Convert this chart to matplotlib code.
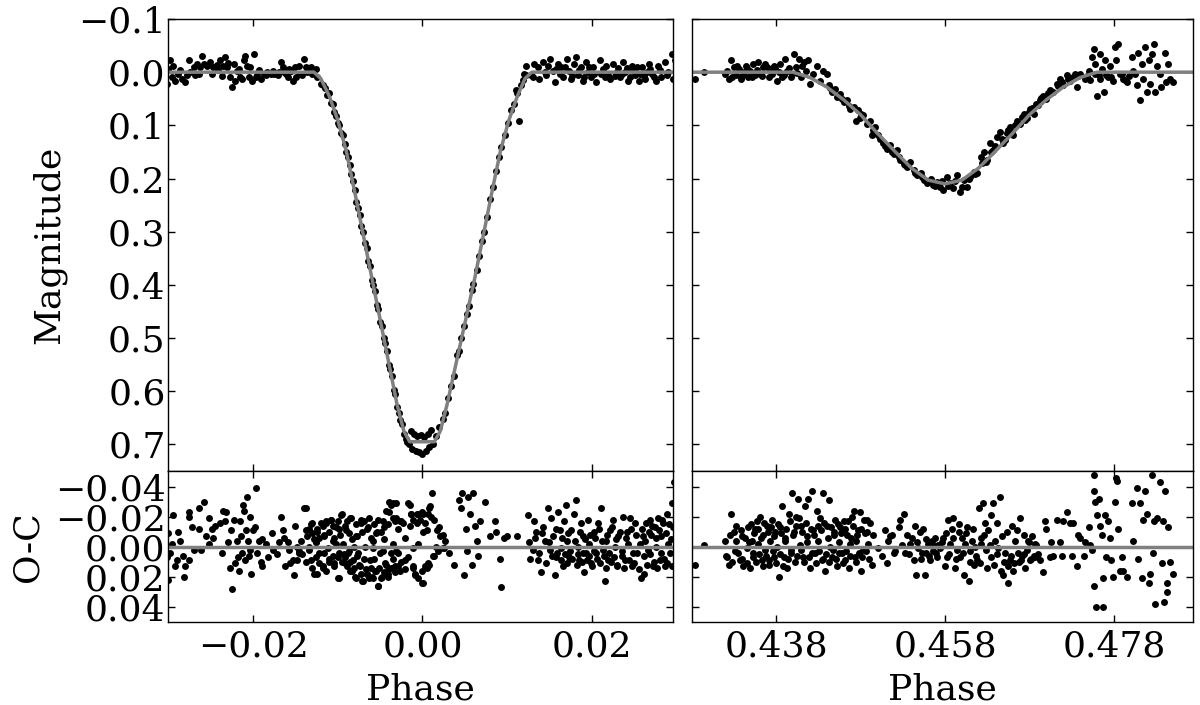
import numpy as np
import matplotlib
matplotlib.use("Agg")
import matplotlib.pyplot as plt
from matplotlib.ticker import FixedLocator

# ---------------- primary eclipse: light curve ----------------
prim_phase = [
    -0.0298, -0.0300, -0.0301, -0.0296, -0.0292, -0.0288, -0.0284, -0.0280, -0.0276, -0.0274,
    -0.0270, -0.0266, -0.0264, -0.0260, -0.0258, -0.0254, -0.0251, -0.0247, -0.0243, -0.0239,
    -0.0235, -0.0233, -0.0231, -0.0227, -0.0225, -0.0223, -0.0221, -0.0219, -0.0217, -0.0215,
    -0.0211, -0.0209, -0.0207, -0.0205, -0.0203, -0.0201, -0.0199, -0.0195, -0.0191, -0.0187,
    -0.0183, -0.0179, -0.0175, -0.0169, -0.0167, -0.0163, -0.0159, -0.0157, -0.0153, -0.0151,
    -0.0149, -0.0144, -0.0140, -0.0138, -0.0136, -0.0132, -0.0130, -0.0126, -0.0124, -0.0120,
    -0.0294, -0.0286, -0.0278, -0.0268, -0.0262, -0.0249, -0.0241, -0.0237, -0.0229, -0.0213,
    -0.0197, -0.0193, -0.0185, -0.0177, -0.0171, -0.0165, -0.0161, -0.0155, -0.0146, -0.0142,
    -0.0118, -0.0115, -0.0113, -0.0110, -0.0108, -0.0106, -0.0104, -0.0102, -0.0100, -0.0098,
    -0.0096, -0.0094, -0.0092, -0.0090, -0.0088, -0.0086, -0.0084, -0.0082, -0.0080, -0.0078,
    -0.0076, -0.0074, -0.0072, -0.0070, -0.0068, -0.0066, -0.0064, -0.0062, -0.0060, -0.0058,
    -0.0056, -0.0054, -0.0052, -0.0050, -0.0048, -0.0046, -0.0044, -0.0042, -0.0040, -0.0038,
    -0.0036, -0.0034, -0.0032, -0.0030, -0.0028, -0.0026, -0.0024, -0.0022, -0.0020, -0.0018,
    -0.0016, -0.0014, -0.0012, -0.0010, -0.0008, -0.0006, -0.0004, -0.0002, 0.0000, 0.0002,
    0.0004, 0.0006, 0.0008, 0.0010, 0.0012, 0.0016, 0.0020, 0.0024, 0.0027, 0.0030,
    0.0034, 0.0037, 0.0041, 0.0043, 0.0046, 0.0049, 0.0052, 0.0055, 0.0058, 0.0060,
    0.0064, 0.0067, 0.0070, 0.0073, 0.0076, 0.0080, 0.0083, 0.0087, 0.0090, 0.0093,
    0.0097, 0.0101, 0.0105, 0.0114, 0.0108, 0.0112, 0.0116, 0.0119, 0.0110, 0.0122,
    0.0120, 0.0128, 0.0132, 0.0136, 0.0138, 0.0142, 0.0144, 0.0148, 0.0150, 0.0154,
    0.0156, 0.0160, 0.0162, 0.0166, 0.0168, 0.0170, 0.0173, 0.0175, 0.0179, 0.0181,
    0.0183, 0.0187, 0.0189, 0.0193, 0.0195, 0.0199, 0.0201, 0.0205, 0.0209, 0.0211,
    0.0215, 0.0217, 0.0221, 0.0225, 0.0229, 0.0233, 0.0237, 0.0239, 0.0243, 0.0247,
    0.0251, 0.0255, 0.0259, 0.0263, 0.0267, 0.0271, 0.0275, 0.0278, 0.0282, 0.0286,
    0.0290, 0.0294, 0.0296, 0.0298, 0.0122, 0.0130, 0.0146, 0.0158, 0.0164, 0.0177,
    0.0185, 0.0191, 0.0197, 0.0203, 0.0213, 0.0219, 0.0227, 0.0231, 0.0235, 0.0241,
    0.0245, 0.0249, 0.0253, 0.0257, 0.0261, 0.0265, 0.0269, 0.0273, 0.0280, 0.0288,
]
prim_mag = [
    -0.022, -0.006, 0.022, 0.009, 0.016, 0.003, 0.012, 0.019, -0.022, 0.000,
    -0.009, -0.016, 0.003, -0.031, -0.016, -0.012, -0.019, -0.009, -0.014, -0.022,
    -0.012, -0.028, -0.009, 0.009, 0.028, -0.016, 0.016, -0.003, -0.006, 0.009,
    -0.022, -0.031, -0.012, 0.009, -0.009, 0.016, -0.034, 0.006, 0.012, 0.003,
    0.000, 0.003, 0.003, 0.000, -0.019, 0.000, 0.009, -0.006, 0.016, -0.009,
    0.009, 0.003, -0.025, -0.009, 0.000, -0.009, 0.003, -0.006, 0.009, 0.022,
    -0.012, -0.004, 0.006, 0.005, -0.010, 0.004, -0.005, 0.007, -0.018, 0.012,
    0.010, -0.004, 0.006, -0.003, 0.005, -0.010, 0.004, -0.002, -0.012, 0.006,
    0.025, 0.030, 0.042, 0.040, 0.058, 0.060, 0.075, 0.082, 0.095, 0.100,
    0.115, 0.118, 0.135, 0.150, 0.160, 0.175, 0.192, 0.205, 0.222, 0.245,
    0.255, 0.268, 0.290, 0.300, 0.322, 0.330, 0.355, 0.365, 0.390, 0.400,
    0.412, 0.438, 0.445, 0.470, 0.478, 0.500, 0.510, 0.525, 0.550, 0.558,
    0.572, 0.598, 0.605, 0.630, 0.640, 0.655, 0.662, 0.680, 0.690, 0.695,
    0.700, 0.675, 0.708, 0.680, 0.712, 0.684, 0.715, 0.682, 0.718, 0.686,
    0.712, 0.680, 0.705, 0.672, 0.700, 0.685, 0.668, 0.652, 0.640, 0.612,
    0.590, 0.572, 0.532, 0.525, 0.500, 0.478, 0.455, 0.440, 0.410, 0.398,
    0.372, 0.345, 0.318, 0.300, 0.272, 0.238, 0.215, 0.185, 0.160, 0.140,
    0.118, 0.095, 0.072, 0.092, 0.060, 0.040, 0.025, 0.015, 0.034, 0.006,
    0.003, 0.006, -0.016, -0.009, 0.012, -0.019, 0.000, -0.012, -0.025, -0.003,
    0.019, -0.016, 0.003, 0.009, -0.009, -0.025, -0.003, 0.012, -0.016, -0.028,
    0.006, -0.009, 0.016, -0.019, 0.000, 0.009, -0.009, 0.019, -0.022, 0.003,
    0.009, -0.012, 0.012, -0.016, 0.000, 0.009, -0.019, 0.000, 0.016, -0.012,
    0.006, 0.016, -0.009, 0.012, -0.016, 0.003, 0.016, -0.012, 0.009, -0.019,
    0.000, -0.034, 0.012, -0.022, -0.012, 0.010, 0.006, -0.006, -0.010, 0.008,
    -0.004, 0.010, -0.010, 0.004, -0.006, 0.005, 0.008, -0.008, 0.004, -0.008,
    0.010, -0.005, -0.010, 0.004, 0.008, 0.000, -0.006, 0.010, -0.004, 0.006,
]

# fitted model, primary
prim_model_phase = [-0.030, -0.0128, -0.0120, -0.0110, -0.0100, -0.0090, -0.0080, -0.0070,
                    -0.0060, -0.0050, -0.0040, -0.0030, -0.0022, -0.0015, 0.0014, 0.0021,
                    0.0029, 0.0040, 0.0051, 0.0062, 0.0072, 0.0082, 0.0092, 0.0102,
                    0.0112, 0.0121, 0.0129, 0.030]
prim_model_mag = [0.0, 0.0, 0.012, 0.045, 0.090, 0.148, 0.225, 0.305,
                  0.385, 0.465, 0.545, 0.625, 0.675, 0.695, 0.695, 0.675,
                  0.625, 0.545, 0.465, 0.385, 0.305, 0.225, 0.148, 0.090,
                  0.045, 0.012, 0.0, 0.0]

# ---------------- primary eclipse: residuals ----------------
prim_oc_phase = [
    -0.0300, -0.0301, -0.0300, -0.0296, -0.0295, -0.0292, -0.0290, -0.0286, -0.0281, -0.0280,
    -0.0276, -0.0276, -0.0275, -0.0270, -0.0264, -0.0264, -0.0258, -0.0256, -0.0252, -0.0252,
    -0.0249, -0.0245, -0.0239, -0.0235, -0.0233, -0.0232, -0.0229, -0.0227, -0.0225, -0.0223,
    -0.0219, -0.0218, -0.0217, -0.0215, -0.0213, -0.0212, -0.0211, -0.0210, -0.0208, -0.0207,
    -0.0206, -0.0204, -0.0203, -0.0202, -0.0200, -0.0197, -0.0195, -0.0193, -0.0191, -0.0189,
    -0.0185, -0.0176, -0.0169, -0.0167, -0.0165, -0.0162, -0.0159, -0.0157, -0.0153, -0.0152,
    -0.0150, -0.0146, -0.0140, -0.0138, -0.0136, -0.0134, -0.0132, -0.0130, -0.0128, -0.0126,
    -0.0124, -0.0122, -0.0120, -0.0118, -0.0116, -0.0114, -0.0112, -0.0110, -0.0108, -0.0106,
    -0.0104, -0.0102, -0.0100, -0.0098, -0.0096, -0.0094, -0.0092, -0.0090, -0.0088, -0.0086,
    -0.0084, -0.0082, -0.0080, -0.0078, -0.0076, -0.0074, -0.0072, -0.0070, -0.0068, -0.0066,
    -0.0064, -0.0062, -0.0060, -0.0058, -0.0056, -0.0054, -0.0052, -0.0050, -0.0048, -0.0046,
    -0.0044, -0.0043, -0.0041, -0.0039, -0.0037, -0.0035, -0.0033, -0.0031, -0.0029, -0.0027,
    -0.0025, -0.0021, -0.0017, -0.0015, -0.0013, -0.0011, -0.0009, -0.0007, -0.0005, -0.0003,
    -0.0001, 0.0001, 0.0003, 0.0005, 0.0007, 0.0009, 0.0011, 0.0013, 0.0017, 0.0021,
    0.0025, 0.0027, 0.0031, 0.0037, 0.0043, 0.0045, 0.0047, 0.0049, 0.0051, 0.0053,
    0.0054, 0.0056, 0.0058, 0.0060, 0.0062, 0.0064, 0.0066, 0.0068, 0.0074, 0.0080,
    0.0086, 0.0087, 0.0092, 0.0093, 0.0096, 0.0100, 0.0112, 0.0124, 0.0126, 0.0130,
    0.0132, 0.0134, 0.0136, 0.0140, 0.0142, 0.0144, 0.0148, 0.0150, 0.0152, 0.0154,
    0.0156, 0.0158, 0.0160, 0.0162, 0.0164, 0.0166, 0.0167, 0.0169, 0.0171, 0.0173,
    0.0175, 0.0179, 0.0181, 0.0183, 0.0185, 0.0187, 0.0189, 0.0191, 0.0193, 0.0195,
    0.0197, 0.0199, 0.0203, 0.0205, 0.0207, 0.0211, 0.0213, 0.0215, 0.0217, 0.0219,
    0.0221, 0.0225, 0.0227, 0.0229, 0.0231, 0.0235, 0.0237, 0.0239, 0.0241, 0.0243,
    0.0245, 0.0247, 0.0251, 0.0253, 0.0257, 0.0258, 0.0260, 0.0262, 0.0264, 0.0266,
    0.0268, 0.0270, 0.0272, 0.0274, 0.0276, 0.0278, 0.0280, 0.0282, 0.0284, 0.0286,
    0.0288, 0.0290, 0.0292, 0.0294, 0.0296, 0.0297, 0.0295,
]
prim_oc = [
    -0.009, 0.007, 0.022, -0.002, -0.021, 0.013, 0.009, -0.004, 0.020, 0.013,
    0.009, -0.023, -0.020, 0.002, -0.026, -0.012, -0.030, -0.007, -0.019, -0.002,
    -0.012, -0.014, -0.016, -0.024, -0.017, -0.023, -0.003, 0.014, 0.028, -0.018,
    -0.004, 0.007, 0.016, -0.017, 0.004, -0.028, -0.024, 0.009, -0.011, -0.033,
    -0.004, 0.002, -0.020, 0.018, -0.011, -0.039, 0.004, -0.004, 0.010, 0.013,
    -0.002, 0.002, -0.003, -0.020, -0.011, 0.013, -0.003, 0.002, 0.009, 0.019,
    -0.014, 0.003, -0.026, -0.011, -0.007, 0.000, 0.009, -0.016, 0.018, -0.003,
    -0.010, 0.004, -0.016, 0.013, -0.007, -0.017, 0.001, 0.010, -0.018, -0.004,
    0.013, -0.013, 0.007, 0.021, -0.021, -0.002, 0.011, -0.011, 0.004, 0.016,
    -0.019, 0.009, 0.020, -0.007, 0.004, 0.013, -0.016, 0.023, 0.000, 0.018,
    -0.013, 0.009, 0.020, -0.004, 0.016, -0.010, 0.026, 0.004, 0.020, -0.013,
    0.011, -0.024, 0.018, -0.030, 0.004, -0.029, 0.013, -0.019, 0.004, 0.016,
    -0.017, 0.009, -0.029, -0.014, -0.022, 0.013, 0.019, -0.022, -0.002, -0.018,
    0.024, -0.022, 0.013, -0.011, 0.011, -0.027, -0.036, 0.006, -0.011, -0.007,
    0.001, -0.004, 0.004, 0.012, -0.031, -0.026, -0.036, 0.019, -0.012, 0.003,
    -0.033, -0.022, 0.012, -0.036, -0.014, -0.004, 0.006, -0.017, -0.030, -0.007,
    -0.017, -0.010, 0.008, 0.027, -0.006, -0.007, -0.007, -0.021, -0.003, 0.002,
    -0.017, -0.010, 0.009, 0.017, -0.013, -0.004, -0.026, 0.002, -0.019, -0.007,
    0.019, 0.007, -0.023, -0.011, 0.001, 0.013, -0.017, -0.028, -0.004, 0.007,
    -0.011, -0.022, -0.031, 0.000, 0.009, -0.016, -0.007, 0.017, 0.004, -0.018,
    -0.002, 0.011, -0.010, 0.004, -0.016, -0.026, 0.002, 0.023, -0.004, 0.009,
    -0.011, -0.018, 0.000, 0.013, -0.007, 0.006, -0.020, 0.009, -0.010, -0.002,
    -0.019, 0.013, -0.016, 0.004, -0.002, 0.021, -0.007, 0.018, -0.016, 0.002,
    -0.018, -0.008, 0.013, -0.013, 0.000, -0.019, 0.009, -0.007, -0.016, 0.013,
    -0.022, -0.002, 0.004, -0.029, -0.013, -0.043, 0.013,
]

# denser part of the primary residuals (ingress, minimum, egress, out of eclipse)
prim_oc_phase_b = [
    -0.0138, -0.0134, -0.0132, -0.0130, -0.0128, -0.0124, -0.0122, -0.0118, -0.0116, -0.0114,
    -0.0110, -0.0108, -0.0106, -0.0104, -0.0100, -0.0099, -0.0097, -0.0095, -0.0091, -0.0089,
    -0.0087, -0.0085, -0.0083, -0.0079, -0.0077, -0.0073, -0.0071, -0.0069, -0.0065, -0.0063,
    -0.0061, -0.0057, -0.0055, -0.0053, -0.0049, -0.0047, -0.0045, -0.0041, -0.0039, -0.0037,
    -0.0035, -0.0033, -0.0031, -0.0029, -0.0027, -0.0023, -0.0021, -0.0015, -0.0013, -0.0011,
    -0.0007, -0.0005, -0.0001, 0.0001, 0.0003, 0.0007, 0.0008, 0.0010, 0.0014, 0.0020,
    0.0024,
    -0.0146, -0.0142, -0.0138, -0.0134, -0.0130, -0.0126, -0.0124, -0.0122, -0.0118, -0.0116,
    -0.0114, -0.0110, -0.0106, -0.0104, -0.0100, -0.0099, -0.0095, -0.0093, -0.0091, -0.0089,
    -0.0087, -0.0085, -0.0083, -0.0081, -0.0079, -0.0077, -0.0075, -0.0073, -0.0071, -0.0069,
    -0.0067, -0.0065, -0.0063, -0.0061, -0.0059, -0.0057, -0.0055, -0.0053, -0.0051, -0.0049,
    -0.0047, -0.0045, -0.0043, -0.0041, -0.0039, -0.0037, -0.0035, -0.0033, -0.0031, -0.0029,
    -0.0025, -0.0021, -0.0017, -0.0011, -0.0009, -0.0005, -0.0001, 0.0001, 0.0005, 0.0008,
    0.0012, 0.0018, 0.0024,
    -0.0148, -0.0126, -0.0102, -0.0081, -0.0059, -0.0035, -0.0011, 0.0016,
    0.0127, 0.0133, 0.0138, 0.0141, 0.0146, 0.0149, 0.0153, 0.0157, 0.0159, 0.0163,
    0.0165, 0.0168, 0.0170, 0.0172, 0.0174, 0.0177, 0.0180, 0.0182, 0.0184, 0.0186,
    0.0188, 0.0190, 0.0192, 0.0194, 0.0196, 0.0198, 0.0200, 0.0202, 0.0204, 0.0206,
    0.0208, 0.0210, 0.0212, 0.0214, 0.0216, 0.0218, 0.0220, 0.0222, 0.0224, 0.0226,
    0.0228, 0.0230, 0.0233, 0.0236, 0.0238, 0.0240, 0.0244, 0.0246, 0.0248, 0.0250,
    0.0252, 0.0255, 0.0259, 0.0261, 0.0263, 0.0265, 0.0267, 0.0269, 0.0271, 0.0273,
    0.0275, 0.0277, 0.0279, 0.0281, 0.0283, 0.0285, 0.0287, 0.0289, 0.0291, 0.0293,
    -0.0298, -0.0289, -0.0283, -0.0272, -0.0261, -0.0247, -0.0237, -0.0226, -0.0221, -0.0214,
    -0.0205, -0.0198, -0.0190, -0.0182, -0.0178, -0.0172, -0.0163, -0.0156, -0.0148, -0.0143,
]
prim_oc_b = [
    -0.026, -0.012, -0.015, -0.009, -0.005, -0.012, -0.006, -0.014, -0.008, -0.016,
    -0.010, -0.018, -0.014, -0.006, -0.017, -0.012, -0.008, -0.022, -0.014, -0.017,
    -0.009, -0.019, -0.005, -0.015, -0.007, -0.018, -0.010, -0.017, -0.012, -0.019,
    -0.006, -0.015, -0.009, -0.018, -0.010, -0.017, -0.005, -0.015, -0.023, -0.028,
    -0.019, -0.017, -0.029, -0.012, -0.017, -0.016, -0.006, -0.028, -0.022, -0.018,
    -0.016, -0.022, -0.023, -0.010, -0.016, -0.022, -0.026, -0.020, -0.018, -0.013,
    -0.008,
    0.004, 0.005, 0.010, 0.002, 0.014, 0.007, 0.018, 0.011, 0.014, 0.004,
    0.016, 0.008, 0.006, 0.011, 0.021, 0.004, 0.010, 0.005, 0.007, 0.013,
    0.003, 0.010, 0.016, 0.014, 0.021, 0.006, 0.012, 0.018, 0.023, 0.008,
    0.015, 0.018, 0.021, 0.014, 0.021, 0.008, 0.016, 0.026, 0.014, 0.021,
    0.003, 0.017, 0.012, 0.020, 0.015, 0.014, 0.008, 0.017, 0.003, 0.013,
    0.010, 0.015, 0.007, 0.014, 0.018, 0.021, 0.016, 0.024, 0.014, 0.012,
    0.006, 0.003, 0.001,
    0.000, -0.003, -0.002, 0.000, 0.001, -0.002, 0.001, 0.000,
    0.008, -0.006, 0.004, -0.009, 0.011, -0.003, 0.006, -0.012, 0.004, 0.009,
    -0.006, 0.005, 0.011, -0.009, 0.003, 0.008, -0.004, 0.012, 0.005, -0.010,
    0.010, 0.004, -0.005, 0.009, 0.006, -0.008, 0.013, 0.003, -0.006, 0.008,
    -0.012, 0.011, -0.004, 0.006, 0.014, -0.008, 0.004, 0.010, -0.013, 0.007,
    -0.005, 0.012, -0.010, 0.003, 0.014, -0.006, 0.009, -0.012, 0.004, 0.011,
    -0.008, 0.015, -0.012, 0.006, -0.004, 0.012, -0.010, 0.005, -0.014, 0.010,
    -0.006, 0.014, -0.011, 0.004, -0.018, 0.008, -0.009, 0.011, -0.015, -0.005,
    0.004, -0.010, 0.006, -0.013, 0.002, -0.006, 0.004, -0.011, 0.011, -0.007,
    0.006, -0.013, -0.005, 0.007, -0.009, 0.005, -0.006, 0.011, 0.009, -0.004,
]

# ---------------- secondary eclipse: light curve ----------------
sec_phase = [
    0.4284, 0.4294, 0.4322, 0.4324, 0.4326, 0.4330, 0.4332, 0.4336, 0.4338, 0.4342,
    0.4344, 0.4347, 0.4349, 0.4353, 0.4355, 0.4359, 0.4361, 0.4365, 0.4367, 0.4371,
    0.4373, 0.4377, 0.4381, 0.4383, 0.4385, 0.4389, 0.4391, 0.4393, 0.4397, 0.4401,
    0.4403, 0.4407, 0.4409, 0.4413, 0.4415, 0.4418, 0.4420, 0.4424, 0.4320, 0.4328,
    0.4334, 0.4340, 0.4346, 0.4351, 0.4357, 0.4363, 0.4369, 0.4375, 0.4379, 0.4387,
    0.4395, 0.4399, 0.4405, 0.4411, 0.4428, 0.4432, 0.4436, 0.4440, 0.4442, 0.4446,
    0.4450, 0.4452, 0.4456, 0.4460, 0.4464, 0.4468, 0.4472, 0.4474, 0.4477, 0.4479,
    0.4483, 0.4487, 0.4491, 0.4493, 0.4497, 0.4503, 0.4507, 0.4511, 0.4515, 0.4519,
    0.4523, 0.4527, 0.4531, 0.4535, 0.4539, 0.4543, 0.4547, 0.4551, 0.4555, 0.4559,
    0.4563, 0.4566, 0.4570, 0.4574, 0.4578, 0.4582, 0.4586, 0.4590, 0.4594, 0.4598,
    0.4602, 0.4606, 0.4610, 0.4614, 0.4618, 0.4622, 0.4626, 0.4630, 0.4633, 0.4637,
    0.4641, 0.4645, 0.4649, 0.4653, 0.4657, 0.4661, 0.4665, 0.4669, 0.4673, 0.4677,
    0.4681, 0.4685, 0.4688, 0.4692, 0.4696, 0.4700, 0.4704, 0.4708, 0.4712, 0.4716,
    0.4720, 0.4724, 0.4728, 0.4732, 0.4736, 0.4740, 0.4444, 0.4458, 0.4466, 0.4481,
    0.4495, 0.4501, 0.4509, 0.4517, 0.4525, 0.4533, 0.4545, 0.4553, 0.4561, 0.4568,
    0.4576, 0.4584, 0.4592, 0.4600, 0.4608, 0.4616, 0.4624, 0.4628, 0.4635, 0.4639,
    0.4647, 0.4651, 0.4655, 0.4659, 0.4663, 0.4671, 0.4675, 0.4679, 0.4683, 0.4690,
    0.4694, 0.4702, 0.4706, 0.4714, 0.4718, 0.4726, 0.4734, 0.4738, 0.4746, 0.4750,
    0.4754, 0.4756, 0.4758, 0.4760, 0.4762, 0.4764, 0.4766, 0.4768, 0.4770, 0.4773,
    0.4775, 0.4779, 0.4781, 0.4783, 0.4785, 0.4787, 0.4791, 0.4795, 0.4801, 0.4803,
    0.4807, 0.4809, 0.4811, 0.4813, 0.4815, 0.4817, 0.4819, 0.4821, 0.4823, 0.4825,
    0.4827, 0.4829, 0.4831, 0.4834, 0.4836, 0.4840, 0.4842, 0.4844, 0.4846, 0.4850,
    0.4748, 0.4752, 0.4757, 0.4763, 0.4771, 0.4777, 0.4789, 0.4793, 0.4798, 0.4805,
]
sec_mag = [
    0.012, 0.000, -0.003, 0.012, -0.022, -0.009, 0.006, -0.006, 0.012, 0.000,
    -0.012, 0.009, -0.003, -0.016, 0.006, -0.019, 0.003, -0.009, -0.016, 0.009,
    -0.006, -0.012, 0.016, 0.000, -0.016, 0.006, -0.025, -0.003, 0.009, -0.034,
    -0.009, -0.025, 0.009, -0.019, -0.003, -0.022, 0.022, 0.003, 0.004, 0.010,
    -0.012, 0.007, -0.008, 0.010, -0.004, 0.008, -0.010, 0.004, -0.008, 0.010,
    -0.008, 0.004, 0.002, -0.012, -0.012, 0.016, -0.003, 0.003, 0.025, 0.037,
    0.031, 0.047, 0.041, 0.056, 0.053, 0.069, 0.066, 0.091, 0.072, 0.087,
    0.081, 0.097, 0.091, 0.119, 0.103, 0.125, 0.134, 0.144, 0.137, 0.153,
    0.147, 0.165, 0.172, 0.178, 0.168, 0.184, 0.193, 0.190, 0.203, 0.209,
    0.200, 0.212, 0.206, 0.215, 0.222, 0.197, 0.209, 0.218, 0.193, 0.225,
    0.203, 0.215, 0.197, 0.187, 0.190, 0.159, 0.150, 0.165, 0.134, 0.147,
    0.122, 0.112, 0.134, 0.115, 0.103, 0.119, 0.091, 0.097, 0.078, 0.087,
    0.069, 0.078, 0.059, 0.053, 0.044, 0.050, 0.034, 0.037, 0.022, 0.012,
    0.025, 0.006, 0.016, 0.009, 0.028, 0.003, 0.030, 0.050, 0.064, 0.078,
    0.108, 0.118, 0.138, 0.150, 0.160, 0.175, 0.190, 0.198, 0.205, 0.214,
    0.204, 0.214, 0.205, 0.215, 0.200, 0.192, 0.170, 0.168, 0.150, 0.138,
    0.125, 0.128, 0.108, 0.112, 0.100, 0.085, 0.090, 0.075, 0.068, 0.062,
    0.048, 0.040, 0.036, 0.026, 0.018, 0.012, 0.004, 0.008, 0.012, -0.003,
    -0.028, -0.044, -0.016, 0.044, 0.006, -0.034, -0.006, 0.037, -0.022, 0.009,
    -0.012, 0.016, -0.047, -0.022, -0.053, 0.003, 0.012, 0.019, -0.028, -0.003,
    0.025, -0.037, 0.053, -0.016, 0.012, -0.047, 0.037, -0.022, 0.022, -0.034,
    -0.053, 0.037, -0.012, 0.003, 0.028, -0.037, 0.019, -0.016, 0.012, 0.019,
    0.008, 0.014, 0.004, 0.012, 0.006, 0.010, 0.004, 0.014, 0.008, 0.004,
]

# fitted model, secondary
sec_model_phase = [0.428, 0.4400, 0.4420, 0.4440, 0.4460, 0.4480, 0.4500, 0.4520, 0.4540,
                   0.4560, 0.4580, 0.4600, 0.4620, 0.4640, 0.4660, 0.4680, 0.4700,
                   0.4720, 0.4740, 0.4760, 0.488]
sec_model_mag = [0.0, 0.0, 0.010, 0.028, 0.052, 0.080, 0.115, 0.148, 0.180,
                 0.203, 0.210, 0.203, 0.180, 0.148, 0.115, 0.080, 0.052,
                 0.028, 0.010, 0.0, 0.0]

# ---------------- secondary eclipse: residuals ----------------
sec_oc_phase = [
    0.4284, 0.4294, 0.4320, 0.4322, 0.4324, 0.4326, 0.4330, 0.4331, 0.4333, 0.4337,
    0.4339, 0.4341, 0.4345, 0.4347, 0.4349, 0.4351, 0.4353, 0.4355, 0.4357, 0.4359,
    0.4361, 0.4363, 0.4365, 0.4367, 0.4369, 0.4371, 0.4373, 0.4375, 0.4377, 0.4379,
    0.4381, 0.4383, 0.4385, 0.4387, 0.4389, 0.4391, 0.4393, 0.4395, 0.4397, 0.4399,
    0.4401, 0.4402, 0.4404, 0.4406, 0.4408, 0.4410, 0.4412, 0.4414, 0.4416, 0.4418,
    0.4420, 0.4422, 0.4424, 0.4426, 0.4428, 0.4430, 0.4432, 0.4434, 0.4436, 0.4438,
    0.4440, 0.4442, 0.4444, 0.4446, 0.4448, 0.4450, 0.4452, 0.4454, 0.4456, 0.4458,
    0.4460, 0.4462, 0.4464, 0.4466, 0.4468, 0.4470, 0.4472, 0.4473, 0.4475, 0.4477,
    0.4479, 0.4481, 0.4483, 0.4485, 0.4487, 0.4489, 0.4491, 0.4493, 0.4495, 0.4501,
    0.4509, 0.4511, 0.4513, 0.4515, 0.4519, 0.4525, 0.4527, 0.4529, 0.4531, 0.4533,
    0.4535, 0.4539, 0.4543, 0.4545, 0.4546, 0.4548, 0.4550, 0.4552, 0.4554, 0.4556,
    0.4558, 0.4560, 0.4562, 0.4564, 0.4566, 0.4568, 0.4570, 0.4572, 0.4574, 0.4578,
    0.4580, 0.4582, 0.4584, 0.4586, 0.4588, 0.4590, 0.4592, 0.4594, 0.4596, 0.4598,
    0.4600, 0.4602, 0.4604, 0.4606, 0.4608, 0.4610, 0.4612, 0.4614, 0.4616, 0.4618,
    0.4620, 0.4622, 0.4623, 0.4625, 0.4627, 0.4629, 0.4631, 0.4633, 0.4635, 0.4637,
    0.4639, 0.4641, 0.4643, 0.4645, 0.4647, 0.4649, 0.4651, 0.4653, 0.4655, 0.4657,
    0.4659, 0.4661, 0.4663, 0.4665, 0.4667, 0.4669, 0.4671, 0.4673, 0.4675, 0.4677,
    0.4679, 0.4681, 0.4683, 0.4685, 0.4687, 0.4688, 0.4692, 0.4696, 0.4698, 0.4700,
    0.4704, 0.4706, 0.4708, 0.4712, 0.4716, 0.4718, 0.4720, 0.4724, 0.4728, 0.4730,
    0.4732, 0.4736, 0.4738, 0.4740, 0.4744, 0.4746, 0.4750, 0.4752, 0.4754, 0.4756,
    0.4756, 0.4756, 0.4758, 0.4759, 0.4760, 0.4762, 0.4764, 0.4766, 0.4767, 0.4767,
    0.4769, 0.4771, 0.4773, 0.4775, 0.4777, 0.4779, 0.4781, 0.4782, 0.4784, 0.4785,
    0.4787, 0.4789, 0.4791, 0.4795, 0.4801, 0.4803, 0.4807, 0.4809, 0.4811, 0.4813,
    0.4815, 0.4817, 0.4819, 0.4821, 0.4823, 0.4825, 0.4826, 0.4827, 0.4829, 0.4831,
    0.4835, 0.4837, 0.4838, 0.4839, 0.4841, 0.4843, 0.4844, 0.4843, 0.4846, 0.4850,
]
sec_oc = [
    0.012, -0.001, -0.004, 0.007, 0.012, -0.022, -0.010, 0.003, -0.004, 0.009,
    -0.007, 0.013, 0.001, -0.013, 0.014, -0.004, 0.007, -0.012, -0.017, -0.002,
    -0.020, 0.009, -0.008, 0.002, -0.014, 0.012, -0.004, -0.018, 0.007, -0.010,
    0.000, 0.020, -0.013, -0.027, 0.007, -0.006, 0.014, -0.022, 0.002, -0.036,
    -0.010, 0.010, -0.020, -0.032, -0.001, -0.014, 0.007, -0.027, -0.007, -0.032,
    0.014, -0.037, -0.011, 0.004, -0.024, -0.004, -0.019, 0.009, -0.036, 0.016,
    -0.014, -0.031, 0.000, 0.007, -0.010, -0.018, 0.013, -0.003, -0.013, 0.004,
    -0.017, 0.009, -0.008, 0.014, -0.002, -0.020, -0.024, 0.007, -0.004, -0.011,
    -0.023, 0.016, 0.002, -0.009, -0.018, -0.002, -0.016, 0.012, -0.008, 0.001,
    -0.011, 0.011, -0.004, -0.007, 0.004, -0.013, -0.018, -0.001, -0.022, 0.004,
    -0.008, -0.002, 0.009, -0.014, 0.019, 0.001, -0.010, 0.008, -0.012, 0.019,
    0.004, -0.002, 0.009, -0.004, 0.003, -0.006, 0.007, -0.001, 0.001, -0.006,
    0.013, 0.007, -0.018, -0.002, -0.012, -0.019, 0.014, 0.002, -0.010, 0.007,
    -0.006, 0.019, -0.002, -0.013, 0.023, 0.003, -0.004, 0.012, 0.000, 0.009,
    -0.026, -0.006, -0.002, -0.029, -0.016, 0.002, -0.011, -0.001, -0.021, -0.029,
    -0.004, -0.016, 0.001, -0.033, -0.007, 0.019, 0.004, -0.010, 0.024, 0.009,
    -0.014, 0.016, -0.004, -0.011, 0.010, -0.019, 0.006, -0.008, 0.014, 0.002,
    -0.003, 0.009, -0.007, 0.006, 0.007, -0.001, 0.009, 0.017, -0.017, -0.012,
    0.007, -0.003, 0.006, -0.018, -0.003, 0.006, -0.017, -0.023, -0.016, 0.006,
    -0.016, 0.013, -0.008, -0.006, 0.006, -0.003, -0.013, -0.001, 0.002, -0.048,
    -0.037, 0.026, -0.030, 0.040, -0.021, -0.032, -0.014, -0.008, 0.040, 0.021,
    -0.021, 0.007, -0.017, -0.006, 0.009, 0.020, -0.030, -0.046, -0.044, -0.012,
    0.016, 0.007, 0.016, 0.020, -0.029, -0.004, -0.039, 0.008, -0.029, 0.021,
    -0.018, -0.037, -0.022, 0.024, 0.018, -0.048, 0.004, -0.017, 0.038, -0.019,
    -0.043, 0.011, -0.017, 0.037, -0.037, 0.024, -0.013, 0.030, 0.010, 0.018,
]

# denser part of the secondary residuals
sec_oc_phase_b = [
    0.4321, 0.4325, 0.4328, 0.4332, 0.4335, 0.4338, 0.4340, 0.4343, 0.4346, 0.4348,
    0.4350, 0.4352, 0.4354, 0.4356, 0.4358, 0.4360, 0.4362, 0.4364, 0.4366, 0.4368,
    0.4370, 0.4372, 0.4374, 0.4376, 0.4378, 0.4380, 0.4382, 0.4384, 0.4386, 0.4388,
    0.4390, 0.4392, 0.4394, 0.4396, 0.4398, 0.4400, 0.4403, 0.4405, 0.4407, 0.4409,
    0.4411, 0.4413, 0.4415, 0.4417, 0.4419, 0.4421, 0.4423, 0.4425, 0.4427, 0.4429,
    0.4431, 0.4433, 0.4435, 0.4437, 0.4439, 0.4441, 0.4443, 0.4445, 0.4447, 0.4449,
    0.4451, 0.4453, 0.4455, 0.4457, 0.4459, 0.4461, 0.4463, 0.4465, 0.4467, 0.4469,
    0.4471, 0.4474, 0.4476, 0.4478, 0.4480, 0.4482, 0.4484, 0.4486, 0.4488, 0.4490,
    0.4505, 0.4517, 0.4521, 0.4537, 0.4541, 0.4547, 0.4553, 0.4557, 0.4561, 0.4565,
    0.4569, 0.4576, 0.4581, 0.4585, 0.4589, 0.4593, 0.4597, 0.4601, 0.4605, 0.4609,
    0.4613, 0.4617, 0.4621, 0.4626, 0.4630, 0.4634, 0.4638, 0.4642, 0.4646, 0.4650,
    0.4654, 0.4658, 0.4662, 0.4666, 0.4670, 0.4674, 0.4678, 0.4682, 0.4686, 0.4690,
]
sec_oc_b = [
    0.006, -0.008, 0.010, -0.014, 0.004, -0.011, 0.008, -0.006, 0.011, -0.003,
    -0.015, 0.004, -0.009, 0.010, -0.012, 0.005, -0.006, 0.013, -0.016, 0.006,
    -0.010, 0.009, -0.013, 0.003, -0.007, 0.011, -0.015, 0.005, -0.009, 0.013,
    -0.004, -0.012, 0.008, -0.017, 0.004, -0.008, -0.014, 0.006, -0.019, 0.002,
    -0.010, 0.010, -0.016, -0.003, 0.007, -0.012, 0.004, -0.008, 0.011, -0.014,
    0.003, -0.011, 0.008, -0.016, 0.005, -0.006, 0.010, -0.013, 0.002, -0.008,
    0.008, -0.015, 0.004, -0.009, 0.011, -0.012, 0.003, -0.017, 0.006, -0.006,
    -0.014, 0.010, -0.008, 0.004, -0.012, 0.007, -0.018, 0.003, -0.010, 0.008,
    0.006, -0.008, 0.003, 0.005, -0.006, -0.003, 0.004, -0.005, 0.006, -0.002,
    0.004, -0.003, -0.009, 0.005, -0.006, 0.008, -0.015, 0.004, -0.009, 0.010,
    -0.012, 0.006, 0.011, -0.008, 0.014, 0.007, 0.012, 0.005, 0.016, 0.010,
    0.013, 0.006, 0.011, 0.004, 0.009, 0.005, -0.004, 0.008, -0.002, 0.005,
]

mag_ticks = [-0.1, 0.0, 0.1, 0.2, 0.3, 0.4, 0.5, 0.6, 0.7]
oc_ticks = [-0.04, -0.02, 0.0, 0.02, 0.04]
prim_xticks = [-0.02, 0.0, 0.02]
sec_xticks = [0.438, 0.458, 0.478]

# ---------------- style ----------------
plt.rcParams["font.family"] = ["DejaVu Serif"]
plt.rcParams["font.size"] = 26
plt.rcParams["axes.linewidth"] = 1.0
for ax_name in ("xtick", "ytick"):
    plt.rcParams[ax_name + ".direction"] = "in"
    plt.rcParams[ax_name + ".major.size"] = 5
    plt.rcParams[ax_name + ".major.width"] = 1.0
plt.rcParams["xtick.top"] = True
plt.rcParams["ytick.right"] = True
plt.rcParams["xtick.major.pad"] = 5
plt.rcParams["ytick.major.pad"] = 2

fig = plt.figure(figsize=(12, 7.05), dpi=100)
W, H = 1200.0, 705.0
x_l0, x_l1 = 168.3, 673.3
x_r0, x_r1 = 691.7, 1193.3
y_top, y_mid, y_bot = 19.0, 471.0, 622.3

ax_lt = fig.add_axes([x_l0 / W, 1 - y_mid / H, (x_l1 - x_l0) / W, (y_mid - y_top) / H])
ax_lb = fig.add_axes([x_l0 / W, 1 - y_bot / H, (x_l1 - x_l0) / W, (y_bot - y_mid) / H])
ax_rt = fig.add_axes([x_r0 / W, 1 - y_mid / H, (x_r1 - x_r0) / W, (y_mid - y_top) / H])
ax_rb = fig.add_axes([x_r0 / W, 1 - y_bot / H, (x_r1 - x_r0) / W, (y_bot - y_mid) / H])

dot = dict(ls="none", marker="o", ms=5, mec="none", color="k")
model = dict(color="0.5", lw=2.5)

ax_lt.plot(prim_phase, prim_mag, **dot)
ax_lt.plot(prim_model_phase, prim_model_mag, **model)
ax_lb.plot(prim_oc_phase, prim_oc, **dot)
ax_lb.plot(prim_oc_phase_b, prim_oc_b, **dot)
ax_lb.axhline(0.0, **model)

ax_rt.plot(sec_phase, sec_mag, **dot)
ax_rt.plot(sec_model_phase, sec_model_mag, **model)
ax_rb.plot(sec_oc_phase, sec_oc, **dot)
ax_rb.plot(sec_oc_phase_b, sec_oc_b, **dot)
ax_rb.axhline(0.0, **model)

for ax in (ax_lt, ax_rt):
    ax.set_ylim(0.75, -0.1)
    ax.yaxis.set_major_locator(FixedLocator(mag_ticks))
    ax.tick_params(labelbottom=False)
for ax in (ax_lb, ax_rb):
    ax.set_ylim(0.0505, -0.0505)
    ax.yaxis.set_major_locator(FixedLocator(oc_ticks))
    ax.set_xlabel("Phase")
for ax in (ax_lt, ax_lb):
    ax.set_xlim(-0.030, 0.0296)
    ax.xaxis.set_major_locator(FixedLocator(prim_xticks))
for ax in (ax_rt, ax_rb):
    ax.set_xlim(0.428, 0.4874)
    ax.xaxis.set_major_locator(FixedLocator(sec_xticks))
    ax.tick_params(labelleft=False)

ax_lt.set_ylabel("Magnitude")
ax_lt.yaxis.set_label_coords((66 - x_l0) / (x_l1 - x_l0), 0.5)
ax_lb.set_ylabel("O-C")
ax_lb.yaxis.set_label_coords((44 - x_l0) / (x_l1 - x_l0), 0.5)
for ax in (ax_lb, ax_rb):
    ax.xaxis.set_label_coords(0.5, -0.33)

fig.savefig("out.png", dpi=100)
